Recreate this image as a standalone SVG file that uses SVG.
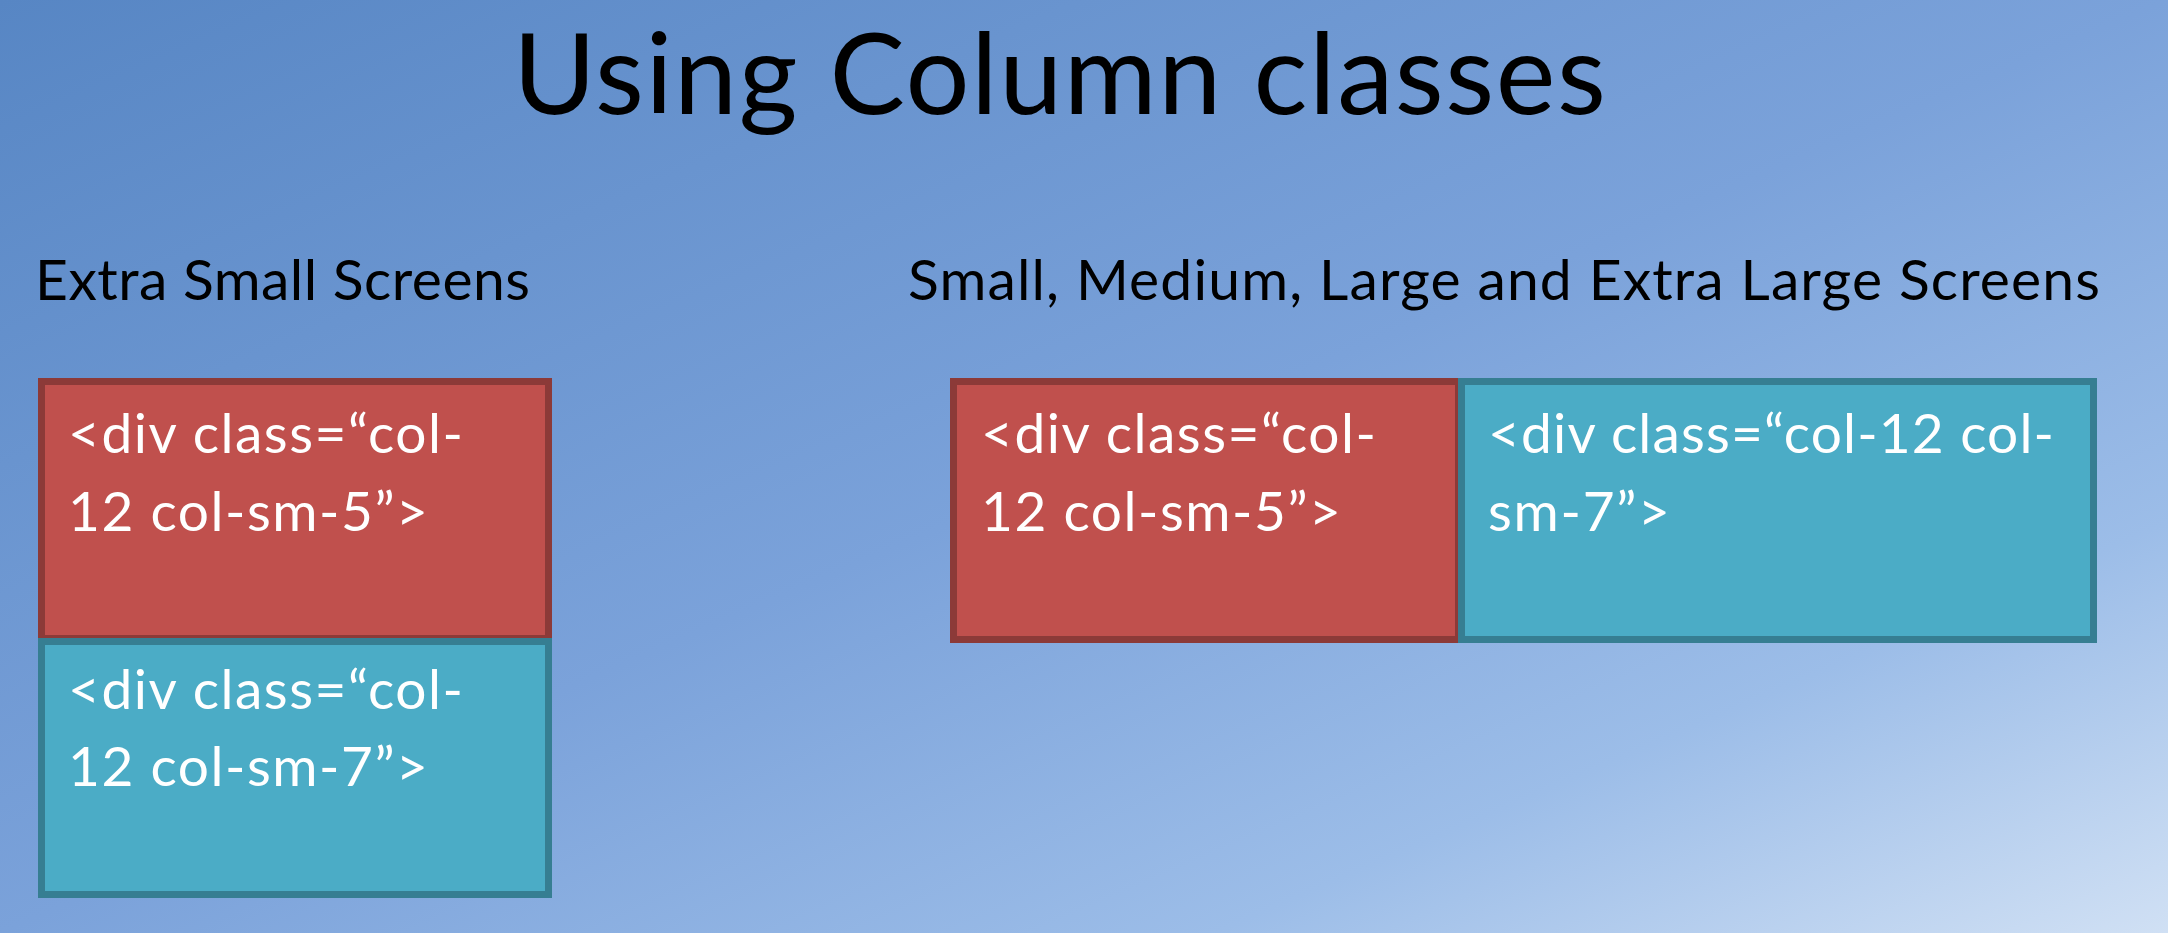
<svg xmlns="http://www.w3.org/2000/svg" width="2168" height="933" viewBox="0 0 2168 933">
  <defs>
    <linearGradient id="bg" x1="0" y1="0" x2="1" y2="1">
      <stop offset="0" stop-color="#5786C4"/>
      <stop offset="0.5" stop-color="#7BA2DA"/>
      <stop offset="0.78" stop-color="#9CBDE8"/>
      <stop offset="1" stop-color="#D0E0F4"/>
    </linearGradient>
  </defs>
  <style>
    .title { font-family: Lato, "Liberation Sans", sans-serif; font-size: 113px; fill: #000; }
    .sub { font-family: Lato, "Liberation Sans", sans-serif; font-size: 57px; fill: #000; }
    .cell { font-family: Lato, "Liberation Sans", sans-serif; font-size: 55px; fill: #FFFFFF; }
    .red { fill: #C0504D; stroke: #8C3A38; stroke-width: 7; }
    .aqua { fill: #4BACC6; stroke: #367E92; stroke-width: 7; }
  </style>

  <!-- slide background -->
  <rect x="0" y="0" width="2168" height="933" fill="url(#bg)"/>

  <text class="title" x="513" y="114" textLength="1093" lengthAdjust="spacing">Using Column classes</text>
  <text class="sub" x="35" y="300" textLength="495" lengthAdjust="spacing">Extra Small Screens</text>
  <text class="sub" x="908" y="300" textLength="1192" lengthAdjust="spacing">Small, Medium, Large and Extra Large Screens</text>

  <!-- stacked layout: extra small screens -->
  <g id="xs-col-5">
    <rect class="red" x="41.5" y="381.5" width="507" height="257"/>
    <text class="cell" x="68" y="453" textLength="395" lengthAdjust="spacing">&lt;div class=“col-</text>
    <text class="cell" x="68" y="531" textLength="360" lengthAdjust="spacing">12 col-sm-5”&gt;</text>
  </g>
  <g id="xs-col-7">
    <rect class="aqua" x="41.5" y="641.5" width="507" height="253"/>
    <text class="cell" x="68" y="709" textLength="395" lengthAdjust="spacing">&lt;div class=“col-</text>
    <text class="cell" x="68" y="786" textLength="360" lengthAdjust="spacing">12 col-sm-7”&gt;</text>
  </g>

  <!-- side-by-side layout: small and larger screens -->
  <g id="sm-col-5">
    <rect class="red" x="953.5" y="381.5" width="505" height="258"/>
    <text class="cell" x="981" y="453" textLength="395" lengthAdjust="spacing">&lt;div class=“col-</text>
    <text class="cell" x="981" y="531" textLength="360" lengthAdjust="spacing">12 col-sm-5”&gt;</text>
  </g>
  <g id="sm-col-7">
    <rect class="aqua" x="1461.5" y="381.5" width="632" height="258"/>
    <text class="cell" x="1488" y="453" textLength="566" lengthAdjust="spacing">&lt;div class=“col-12 col-</text>
    <text class="cell" x="1488" y="531" textLength="182" lengthAdjust="spacing">sm-7”&gt;</text>
  </g>
</svg>
